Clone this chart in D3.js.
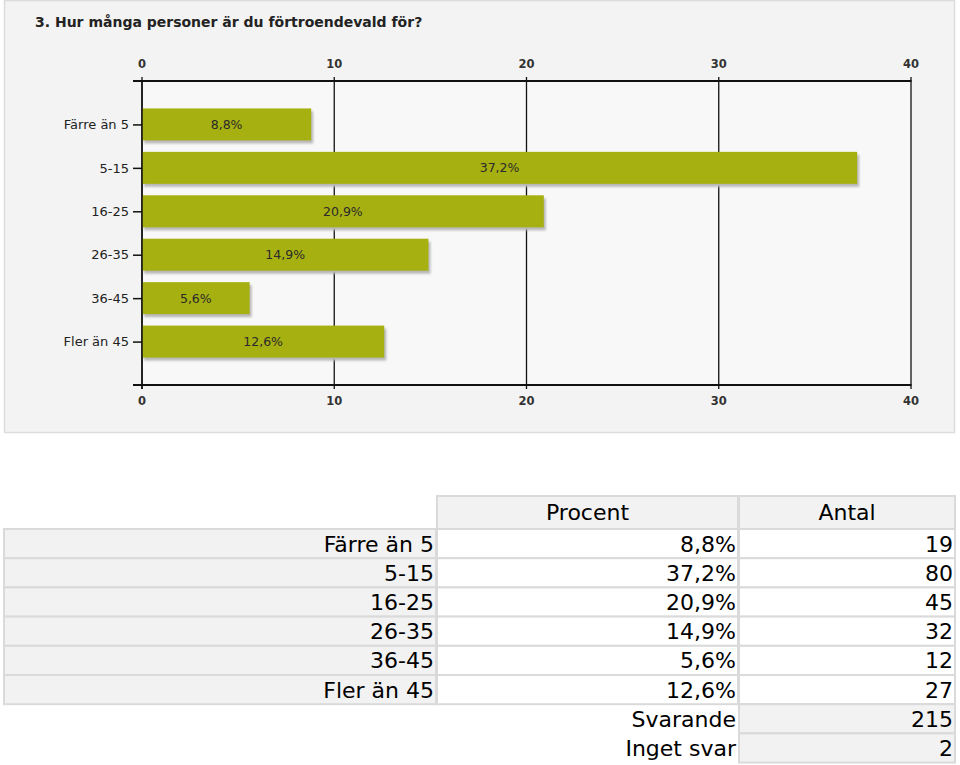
<!DOCTYPE html>
<html>
<head>
<meta charset="utf-8">
<script src="https://cdn.jsdelivr.net/npm/d3@7"></script>
<style>
  html, body { margin: 0; padding: 0; background: #ffffff; }
  svg { display: block; }
</style>
</head>
<body>
<svg id="chart" width="960" height="765"></svg>
<script>
// ---- data ----
const title = "3. Hur många personer är du förtroendevald för?";
const categories = ["Färre än 5", "5-15", "16-25", "26-35", "36-45", "Fler än 45"];
const percents = [8.8, 37.2, 20.9, 14.9, 5.6, 12.6];
const percentLabels = ["8,8%", "37,2%", "20,9%", "14,9%", "5,6%", "12,6%"];
const counts = [19, 80, 45, 32, 12, 27];
const xTicks = [0, 10, 20, 30, 40];
const tableHeaders = ["Procent", "Antal"];
const summaryLabels = ["Svarande", "Inget svar"];
const summaryValues = [215, 2];

const svg = d3.select("#chart");
const FONT = "'DejaVu Sans', Verdana, sans-serif";

// ---- chart panel ----
svg.append("rect")
  .attr("x", 4.5).attr("y", 0.5).attr("width", 950).attr("height", 432)
  .attr("fill", "#f3f3f3").attr("stroke", "#dcdcdc").attr("stroke-width", 1.5);

svg.append("text")
  .attr("x", 35).attr("y", 27)
  .attr("font-family", FONT).attr("font-weight", "bold").attr("font-size", 14)
  .attr("fill", "#222")
  .text(title);

const x = d3.scaleLinear().domain([0, 40]).range([142, 911]);
const y = d3.scalePoint().domain(categories).range([81, 385]).padding(1);
const barH = 32;

// plot interior
svg.append("rect")
  .attr("x", x(0)).attr("y", 81).attr("width", x(40) - x(0)).attr("height", 385 - 81)
  .attr("fill", "#f8f8f8");

// shadow filter
const defs = svg.append("defs");
const f = defs.append("filter").attr("id", "blur").attr("x", "-10%").attr("y", "-20%").attr("width", "120%").attr("height", "140%");
f.append("feGaussianBlur").attr("stdDeviation", 1.2);

// grid lines
svg.append("g").selectAll("line").data(xTicks).join("line")
  .attr("x1", d => x(d)).attr("x2", d => x(d))
  .attr("y1", 77).attr("y2", 389)
  .attr("stroke", "#111").attr("stroke-width", 1.3);

// bars
const bars = svg.append("g");
bars.selectAll("rect.shadow").data(percents).join("rect")
  .attr("class", "shadow")
  .attr("x", x(0) + 2).attr("y", (d, i) => y(categories[i]) - barH / 2 + 3)
  .attr("width", d => x(d) - x(0)).attr("height", barH)
  .attr("fill", "#b8b8b8").attr("filter", "url(#blur)");
bars.selectAll("rect.bar").data(percents).join("rect")
  .attr("class", "bar")
  .attr("x", x(0)).attr("y", (d, i) => y(categories[i]) - barH / 2)
  .attr("width", d => x(d) - x(0)).attr("height", barH)
  .attr("fill", "#a7b011");
bars.selectAll("text").data(percents).join("text")
  .attr("x", d => x(0) + (x(d) - x(0)) / 2).attr("y", (d, i) => y(categories[i]))
  .attr("dy", "0.35em").attr("text-anchor", "middle")
  .attr("font-family", FONT).attr("font-size", 12.5).attr("fill", "#2a2a2a")
  .text((d, i) => percentLabels[i]);

// horizontal axis lines
[81, 385].forEach(yy => {
  svg.append("line").attr("x1", 133).attr("x2", x(40) + 0.5)
    .attr("y1", yy).attr("y2", yy).attr("stroke", "#111").attr("stroke-width", 2);
});
// left axis line
svg.append("line").attr("x1", x(0)).attr("x2", x(0)).attr("y1", 81).attr("y2", 389)
  .attr("stroke", "#111").attr("stroke-width", 1.5);

// tick labels top & bottom
const tickStyle = sel => sel.attr("font-family", FONT).attr("font-size", 11.5)
  .attr("font-weight", "bold").attr("fill", "#333").attr("text-anchor", "middle");
svg.append("g").selectAll("text").data(xTicks).join("text")
  .attr("x", d => x(d)).attr("y", 68).text(d => d).call(tickStyle);
svg.append("g").selectAll("text").data(xTicks).join("text")
  .attr("x", d => x(d)).attr("y", 405).text(d => d).call(tickStyle);

// category ticks and labels
const yAxis = d3.axisLeft(y).tickSize(9).tickPadding(4);
const gy = svg.append("g").attr("transform", `translate(${x(0)},0)`).call(yAxis);
gy.select(".domain").remove();
gy.selectAll(".tick line").attr("stroke", "#111").attr("stroke-width", 1.5);
gy.selectAll(".tick text").attr("font-family", FONT).attr("font-size", 13).attr("fill", "#222");

// ---- table ----
const colLabel = [4, 436], colPct = [437, 738], colCnt = [739, 955];
const headTop = 496, rowTop = 529, rowH = 29.2;
const border = "#dadada";
const tFont = 22;
const tbl = svg.append("g").attr("font-family", FONT).attr("font-size", tFont).attr("fill", "#000");

// header cells
tbl.selectAll("rect.head").data(tableHeaders).join("rect")
  .attr("class", "head")
  .attr("x", (d, i) => i === 0 ? colPct[0] : colCnt[0])
  .attr("y", headTop)
  .attr("width", (d, i) => i === 0 ? colPct[1] - colPct[0] : colCnt[1] - colCnt[0])
  .attr("height", rowTop - headTop)
  .attr("fill", "#f2f2f2").attr("stroke", border).attr("stroke-width", 2);
tbl.selectAll("text.head").data(tableHeaders).join("text")
  .attr("class", "head")
  .attr("x", (d, i) => i === 0 ? (colPct[0] + colPct[1]) / 2 : (colCnt[0] + colCnt[1]) / 2)
  .attr("y", (headTop + rowTop) / 2).attr("dy", "0.36em")
  .attr("text-anchor", "middle").text(d => d);

// data rows
const rows = tbl.selectAll("g.row").data(categories).join("g").attr("class", "row")
  .attr("transform", (d, i) => `translate(0,${rowTop + i * rowH})`);
rows.append("rect").attr("x", colLabel[0]).attr("width", colLabel[1] - colLabel[0]).attr("height", rowH)
  .attr("fill", "#f2f2f2").attr("stroke", border).attr("stroke-width", 2);
rows.append("rect").attr("x", colPct[0]).attr("width", colPct[1] - colPct[0]).attr("height", rowH)
  .attr("fill", "#ffffff").attr("stroke", border).attr("stroke-width", 2);
rows.append("rect").attr("x", colCnt[0]).attr("width", colCnt[1] - colCnt[0]).attr("height", rowH)
  .attr("fill", "#ffffff").attr("stroke", border).attr("stroke-width", 2);
rows.append("text").attr("x", colLabel[1] - 2).attr("y", rowH / 2).attr("dy", "0.36em")
  .attr("text-anchor", "end").text(d => d);
rows.append("text").attr("x", colPct[1] - 2).attr("y", rowH / 2).attr("dy", "0.36em")
  .attr("text-anchor", "end").text((d, i) => percentLabels[i]);
rows.append("text").attr("x", colCnt[1] - 2).attr("y", rowH / 2).attr("dy", "0.36em")
  .attr("text-anchor", "end").text((d, i) => counts[i]);

// summary rows
const sumTop = rowTop + categories.length * rowH;
const srows = tbl.selectAll("g.srow").data(summaryLabels).join("g").attr("class", "srow")
  .attr("transform", (d, i) => `translate(0,${sumTop + i * rowH})`);
srows.append("rect").attr("x", colCnt[0]).attr("width", colCnt[1] - colCnt[0]).attr("height", rowH)
  .attr("fill", "#f2f2f2").attr("stroke", border).attr("stroke-width", 2);
srows.append("text").attr("x", colPct[1] - 2).attr("y", rowH / 2).attr("dy", "0.36em")
  .attr("text-anchor", "end").text(d => d);
srows.append("text").attr("x", colCnt[1] - 2).attr("y", rowH / 2).attr("dy", "0.36em")
  .attr("text-anchor", "end").text((d, i) => summaryValues[i]);
</script>
</body>
</html>
